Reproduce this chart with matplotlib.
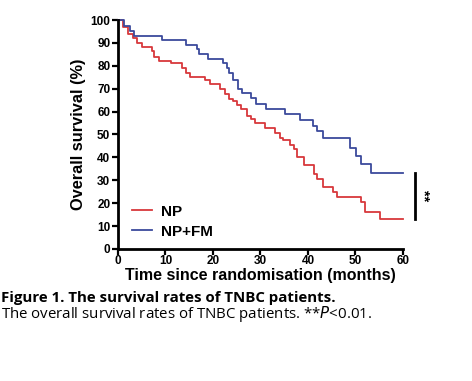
import numpy as np
import matplotlib

matplotlib.use("Agg")
import matplotlib.pyplot as plt

# Kaplan-Meier steps: (month of drop, survival % after drop)
np_times = [0, 1.1, 2.2, 3.1, 4.1, 5.1, 7.1, 7.6, 8.7, 11.1, 13.4, 14.3, 15.2, 18.3,
            19.4, 21.5, 22.5, 23.4, 24.3, 25.1, 26.0, 27.1, 27.9, 28.8, 30.9, 33.1,
            34.1, 34.7, 36.2, 37.1, 37.6, 39.2, 41.2, 42.0, 43.2, 45.2, 46.2, 51.2,
            52.0, 55.2, 60]
np_surv = [100, 97.1, 93.9, 92.0, 89.8, 88.4, 86.6, 84.0, 82.2, 81.1, 78.9, 76.7, 75.3,
           73.6, 72.1, 69.9, 67.7, 65.4, 64.8, 62.9, 61.0, 58.1, 56.6, 54.9, 52.7, 50.5,
           48.3, 47.6, 45.4, 43.5, 40.0, 36.6, 32.8, 30.4, 26.9, 25.1, 22.8, 20.4, 16.3,
           13.1, 13.1]

npfm_times = [0, 1.3, 2.5, 3.4, 9.2, 14.3, 16.7, 17.1, 19.0, 22.2, 22.9, 23.4, 24.3,
              25.3, 26.2, 28.1, 29.1, 31.1, 35.2, 38.3, 41.1, 41.9, 43.1, 48.8, 50.1,
              51.1, 53.2, 60]
npfm_surv = [100, 97.5, 95.3, 93.1, 91.3, 89.2, 87.2, 85.3, 83.1, 81.1, 78.9, 76.7, 73.8,
             69.9, 68.0, 65.8, 63.2, 61.1, 58.8, 56.3, 53.5, 51.7, 48.3, 44.0, 40.6, 37.1,
             33.1, 33.1]

x_ticks = [0, 10, 20, 30, 40, 50, 60]
y_ticks = [0, 10, 20, 30, 40, 50, 60, 70, 80, 90, 100]

RED = "#d8383c"
BLUE = "#3b4a9c"

plt.rcParams["font.family"] = ["Liberation Sans", "DejaVu Sans"]

fig = plt.figure(figsize=(4.72, 3.81), dpi=100)
ax = fig.add_axes([0.25, 0.3465, 0.6038, 0.601])

ax.step(np_times, np_surv, where="post", color=RED, lw=1.3, label="NP", clip_on=False)
ax.step(npfm_times, npfm_surv, where="post", color=BLUE, lw=1.3, label="NP+FM", clip_on=False)

ax.set_xlim(0, 60)
ax.set_ylim(0, 100)
ax.set_xticks(x_ticks)
ax.set_yticks(y_ticks)
for side in ("top", "right"):
    ax.spines[side].set_visible(False)
for side in ("left", "bottom"):
    ax.spines[side].set_linewidth(2.0)
ax.tick_params(direction="out", length=4, width=1.6, labelsize=8.5, pad=1.5)
ax.tick_params(axis="x", pad=0.5)
for lbl in ax.get_xticklabels() + ax.get_yticklabels():
    lbl.set_fontweight("bold")

ax.set_xlabel("Time since randomisation (months)", fontsize=11.5, fontweight="bold", labelpad=0.5)
ax.set_ylabel("Overall survival (%)", fontsize=11.8, fontweight="bold", labelpad=3)

leg = ax.legend(loc="lower left", bbox_to_anchor=(0.0, -0.015), frameon=False,
                prop={"weight": "bold", "size": 11}, handlelength=1.3,
                handletextpad=0.6, labelspacing=0.4)

# significance bar between the two curve ends
ax.plot([62.5, 62.5], [13.1, 33.1], color="black", lw=2.0, clip_on=False)
ax.text(64.3, 23.1, "**", rotation=-90, ha="center", va="center",
        fontsize=10.5, fontweight="bold")

fig.text(0.003, 0.218, "Figure 1. The survival rates of TNBC patients.",
         fontsize=10.8, fontweight="bold", family=["Open Sans", "DejaVu Sans"], va="center")
fig.text(0.003, 0.175, "The overall survival rates of TNBC patients. **$\\mathit{P}$<0.01.",
         fontsize=10.8, family=["Open Sans", "DejaVu Sans"], va="center")

fig.savefig("out.png", dpi=100)
